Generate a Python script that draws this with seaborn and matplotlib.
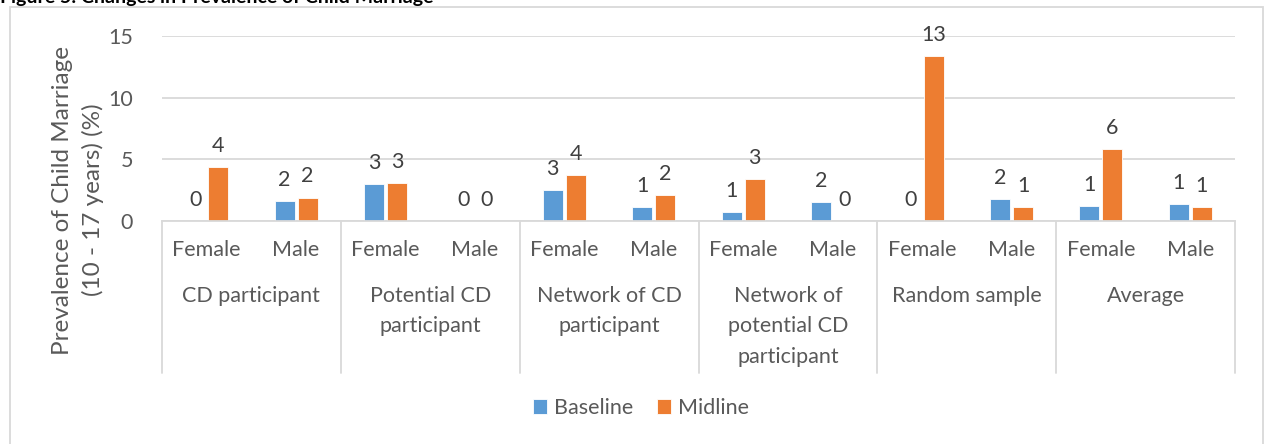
import numpy as np
import pandas as pd
import matplotlib
matplotlib.use("Agg")
import matplotlib.pyplot as plt
import matplotlib.transforms as mtransforms
from matplotlib.patches import Rectangle
import seaborn as sns

# Data
groups = ["CD participant", "Potential CD\nparticipant", "Network of CD\nparticipant",
          "Network of\npotential CD\nparticipant", "Random sample", "Average"]
sexes = ["Female", "Male"]
series = ["Baseline", "Midline"]
baseline = [0.0, 1.6, 3.0, 0.0, 2.5, 1.1, 0.7, 1.5, 0.0, 1.8, 1.2, 1.4]
midline = [4.4, 1.9, 3.1, 0.0, 3.7, 2.1, 3.4, 0.0, 13.4, 1.1, 5.8, 1.1]
yticks = [0, 5, 10, 15]

keys = [f"{g}|{s}" for g in groups for s in sexes]
df = pd.DataFrame({
    "key": keys * 2,
    "series": ["Baseline"] * len(keys) + ["Midline"] * len(keys),
    "value": baseline + midline,
})

colors = {"Baseline": "#5B9BD5", "Midline": "#ED7D31"}
text_grey = "#595959"
line_grey = "#D9D9D9"
fs = 15.5

sns.set_style("white")
plt.rcParams["font.family"] = ["Lato", "DejaVu Sans"]

W, H = 1264, 444
fig = plt.figure(figsize=(W / 100, H / 100), dpi=100)
ax = fig.add_axes([162 / W, 1 - 221 / H, (1235 - 162) / W, (221 - 36) / H])

sns.barplot(data=df, x="key", y="value", hue="series", order=keys,
            hue_order=series, palette=colors, saturation=1, width=0.516, gap=0.13,
            edgecolor="white", linewidth=0.6, ax=ax, legend=True)

ax.set_ylim(0, 15)
ax.set_xlim(-0.5, len(keys) - 0.5)
ax.set_yticks(yticks)
ax.yaxis.grid(True, color=line_grey, linewidth=1.3)
ax.set_axisbelow(True)
for side in ["top", "right", "left"]:
    ax.spines[side].set_visible(False)
ax.spines["bottom"].set_color(line_grey)
ax.spines["bottom"].set_linewidth(1.3)
ax.tick_params(axis="y", length=0, pad=21, labelsize=fs, labelcolor=text_grey)
ax.set_xticks(range(len(keys)))
ax.set_xticklabels(sexes * len(groups))
ax.tick_params(axis="x", length=0, pad=14, labelsize=fs, labelcolor=text_grey)
ax.set_xlabel("")
ax.set_ylabel("")


def half_up(v):
    return str(int(np.floor(v + 0.5)))


for cont in ax.containers:
    vals = [b.get_height() for b in cont]
    ax.bar_label(cont, labels=[half_up(v) for v in vals], padding=8,
                 fontsize=fs, color="#404040")

# Category group labels and separators
trans = mtransforms.blended_transform_factory(ax.transData, ax.transAxes)
for i, g in enumerate(groups):
    ax.text(2 * i + 0.5, -0.35, g, transform=trans, ha="center", va="top",
            fontsize=fs, color=text_grey, linespacing=1.65)
for b in np.arange(-0.5, len(keys), 2):
    ax.plot([b, b], [0, -0.822], transform=trans, color=line_grey,
            linewidth=1.3, clip_on=False)

# Y axis title
fig.text(78 / W, 1 - 200 / H, "Prevalence of Child Marriage\n(10 - 17 years) (%)",
         rotation=90, ha="center", va="center", fontsize=17.5, color=text_grey,
         linespacing=1.45, multialignment="center")

# Legend
handles, labels = ax.get_legend_handles_labels()
ax.legend(handles, labels, loc="center", bbox_to_anchor=(641 / W, 1 - 408 / H),
          bbox_transform=fig.transFigure, ncol=2, frameon=False, fontsize=fs,
          labelcolor=text_grey, handlelength=0.65, handleheight=0.65,
          handletextpad=0.35, columnspacing=1.1)

# Chart frame and figure caption
fig.patches.append(Rectangle((10 / W, -0.01), (1263 - 10) / W, 1 - 7 / H + 0.01,
                             transform=fig.transFigure, fill=False,
                             edgecolor=line_grey, linewidth=1.3))
fig.text(0.0, 1 - 3 / H, "Figure 5: Changes in Prevalence of Child Marriage",
         ha="left", va="baseline", fontsize=14, fontweight="bold", color="black")

fig.savefig("out.png", dpi=100, facecolor="white")
